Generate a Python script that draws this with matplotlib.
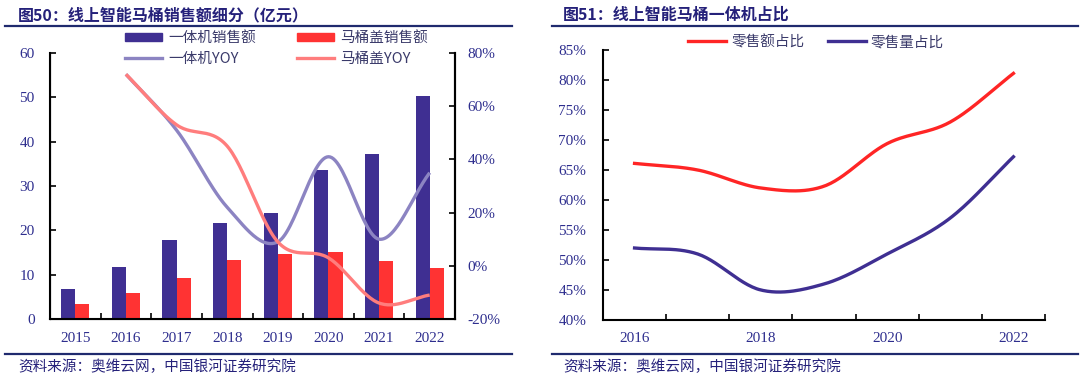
import numpy as np
import matplotlib
matplotlib.use("Agg")
import matplotlib.pyplot as plt
from matplotlib.lines import Line2D
from matplotlib.patches import Patch

plt.rcParams['font.family'] = ['Noto Sans CJK SC', 'DejaVu Sans']

# ---------------- data ----------------
years_left = ['2015', '2016', '2017', '2018', '2019', '2020', '2021', '2022']
sales_all_in_one = [6.7, 11.7, 17.9, 21.7, 23.9, 33.7, 37.2, 50.4]
sales_seat = [3.4, 5.9, 9.3, 13.4, 14.6, 15.1, 13.1, 11.6]
yoy_years = ['2016', '2017', '2018', '2019', '2020', '2021', '2022']
yoy_all_in_one = [72, 51, 22, 9, 41, 10, 35]
yoy_seat = [72, 53, 45, 9, 3, -14, -11]

years_right = ['2016', '2017', '2018', '2019', '2020', '2021', '2022']
share_value = [66.1, 65.0, 62.0, 62.3, 69.4, 73.0, 81.1]
share_volume = [52.0, 51.0, 45.0, 46.0, 51.0, 57.0, 67.2]

NAVY = '#25217A'
TICK_C = '#2E2E8E'
BLUE = '#3F2F92'
RED = '#FF3333'
PURPLE = '#8C84C2'
SALMON = '#FF7D7D'
RED2 = '#FF2525'


def smooth(x, y, n=30):
    x = np.asarray(x, float)
    y = np.asarray(y, float)
    xs, ys = [], []
    m = len(x)
    for i in range(m - 1):
        p0 = y[i - 1] if i > 0 else y[i]
        p3 = y[i + 2] if i + 2 < m else y[i + 1]
        p1, p2 = y[i], y[i + 1]
        m1 = (p2 - p0) / (2 if i > 0 else 1)
        m2 = (p3 - p1) / (2 if i + 2 < m else 1)
        t = np.linspace(0, 1, n)
        h00 = 2 * t**3 - 3 * t**2 + 1
        h10 = t**3 - 2 * t**2 + t
        h01 = -2 * t**3 + 3 * t**2
        h11 = t**3 - t**2
        ys.append(h00 * p1 + h10 * m1 + h01 * p2 + h11 * m2)
        xs.append(x[i] + t * (x[i + 1] - x[i]))
    return np.concatenate(xs), np.concatenate(ys)


fig = plt.figure(figsize=(10.8, 3.8), dpi=100)

serif = 'Liberation Serif'

# ---------------- headers / footers ----------------
fig.text(18 / 1080, 1 - 15 / 380, '图50：线上智能马桶销售额细分（亿元）', fontsize=11.5,
         fontweight='bold', color=NAVY, va='center', ha='left')
fig.text(563 / 1080, 1 - 15 / 380, '图51：线上智能马桶一体机占比', fontsize=11.5,
         fontweight='bold', color=NAVY, va='center', ha='left')
for x0, x1 in [(5, 512), (552, 1078)]:
    for yy in (26, 354):
        fig.add_artist(Line2D([x0 / 1080, x1 / 1080], [1 - yy / 380, 1 - yy / 380],
                              color='#1F2A6E', lw=1.6))
fig.text(18 / 1080, 1 - 367 / 380, '资料来源：奥维云网，中国银河证券研究院', fontsize=10.5,
         color=NAVY, va='center', ha='left')
fig.text(563 / 1080, 1 - 367 / 380, '资料来源：奥维云网，中国银河证券研究院', fontsize=10.5,
         color=NAVY, va='center', ha='left')

# ---------------- left chart ----------------
ax = fig.add_axes([50 / 1080, 1 - 319 / 380, 405 / 1080, 266 / 380])
x = np.arange(len(years_left))
w = 0.28
ax.bar(x - w / 2, sales_all_in_one, width=w, color=BLUE, label='一体机销售额', zorder=2)
ax.bar(x + w / 2, sales_seat, width=w, color=RED, label='马桶盖销售额', zorder=2)
ax.set_xlim(-0.5, len(years_left) - 0.5)
ax.set_ylim(0, 60)
ax.set_yticks(range(0, 61, 10))
ax.set_xticks(x)
ax.set_xticklabels(years_left)
ax.set_xticks(np.arange(-0.5, len(years_left), 1), minor=True)
ax.tick_params(axis='x', which='major', length=0, pad=9)
ax.tick_params(axis='x', which='minor', direction='in', length=4, width=1.2)
ax.tick_params(axis='y', direction='in', length=4, width=1.2, pad=11)
for s in ['top']:
    ax.spines[s].set_visible(False)
for s in ['left', 'bottom', 'right']:
    ax.spines[s].set_linewidth(1.5)
for lab in ax.get_xticklabels() + ax.get_yticklabels():
    lab.set_fontfamily(serif)
    lab.set_fontsize(11)
    lab.set_color(TICK_C)

ax2 = ax.twinx()
xy = np.array([years_left.index(y) for y in yoy_years])
sx, sy = smooth(xy, yoy_all_in_one)
ax2.plot(sx, sy, color=PURPLE, lw=2.4, label='一体机YOY', solid_capstyle='butt')
sx, sy = smooth(xy, yoy_seat)
ax2.plot(sx, sy, color=SALMON, lw=2.4, label='马桶盖YOY', solid_capstyle='butt')
ax2.set_ylim(-20, 80)
ax2.set_yticks(range(-20, 81, 20))
ax2.set_yticklabels([f'{v}%' for v in range(-20, 81, 20)])
ax2.tick_params(axis='y', direction='in', length=4, width=1.2, pad=9)
ax2.spines['top'].set_visible(False)
ax2.spines['right'].set_linewidth(1.5)
for lab in ax2.get_yticklabels():
    lab.set_fontfamily(serif)
    lab.set_fontsize(11)
    lab.set_color(TICK_C)

handles = [Patch(color=BLUE), Patch(color=RED),
           Line2D([], [], color=PURPLE, lw=2.4), Line2D([], [], color=SALMON, lw=2.4)]
labels = ['一体机销售额', '马桶盖销售额', '一体机YOY', '马桶盖YOY']
leg = fig.legend([handles[0], handles[2], handles[1], handles[3]],
                 [labels[0], labels[2], labels[1], labels[3]], ncol=2,
                 loc='center left', bbox_to_anchor=(112 / 1080, 1 - 48.5 / 380),
                 frameon=False, fontsize=10.5, handlelength=2.5, handleheight=0.45,
                 columnspacing=2.85, labelspacing=0.45, handletextpad=0.45)
for t in leg.get_texts():
    t.set_color('#3A3A6A')

# ---------------- right chart ----------------
bx = fig.add_axes([603 / 1080, 1 - 320 / 380, 442 / 1080, 270 / 380])
xr = np.arange(len(years_right))
sx, sy = smooth(xr, share_value)
bx.plot(sx, sy, color=RED2, lw=2.4, label='零售额占比')
sx, sy = smooth(xr, share_volume)
bx.plot(sx, sy, color=BLUE, lw=2.4, label='零售量占比')
bx.set_xlim(-0.5, len(years_right) - 0.5)
bx.set_ylim(40, 85)
bx.set_yticks(range(40, 86, 5))
bx.set_yticklabels([f'{v}%' for v in range(40, 86, 5)])
bx.set_xticks(xr[::2])
bx.set_xticklabels(years_right[::2])
bx.set_xticks(np.arange(-0.5, len(years_right), 1), minor=True)
bx.tick_params(axis='x', which='major', length=0, pad=9)
bx.tick_params(axis='x', which='minor', direction='in', length=4, width=1.2)
bx.tick_params(axis='y', direction='in', length=4, width=1.2, pad=12)
for s in ['top', 'right']:
    bx.spines[s].set_visible(False)
for s in ['left', 'bottom']:
    bx.spines[s].set_linewidth(1.5)
for lab in bx.get_xticklabels() + bx.get_yticklabels():
    lab.set_fontfamily(serif)
    lab.set_fontsize(11)
    lab.set_color(TICK_C)
leg2 = bx.legend(loc='center left', bbox_to_anchor=((675 - 603) / 442, (320 - 42) / 270),
                 ncol=2, frameon=False, fontsize=10.5, handlelength=2.6,
                 columnspacing=1.6, handletextpad=0.35)
for t in leg2.get_texts():
    t.set_color('#3A3A6A')

fig.savefig('out.png', dpi=100)
